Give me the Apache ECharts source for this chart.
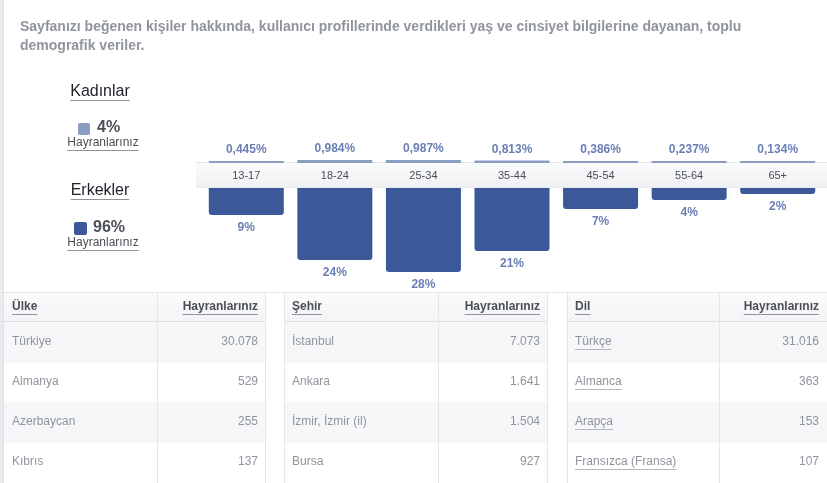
<!DOCTYPE html>
<html>
<head>
<meta charset="utf-8">
<script src="https://cdn.jsdelivr.net/npm/echarts@6/dist/echarts.min.js"></script>
<style>
html,body{margin:0;padding:0;background:#fff;}
#main{width:827px;height:483px;}
</style>
</head>
<body>
<div id="main"></div>
<script>
// yaş grupları ve cinsiyet dağılımı
var ageGroups = ['13-17', '18-24', '25-34', '35-44', '45-54', '55-64', '65+'];
var womenPct = [0.445, 0.984, 0.987, 0.813, 0.386, 0.237, 0.134];
var menPct = [9, 24, 28, 21, 7, 4, 2];
var womenTotal = 4;
var menTotal = 96;

// tablolar
var countryNames = ['Türkiye', 'Almanya', 'Azerbaycan', 'Kıbrıs'];
var countryFans = [30078, 529, 255, 137];
var cityNames = ['İstanbul', 'Ankara', 'İzmir, İzmir (il)', 'Bursa'];
var cityFans = [7073, 1641, 1504, 927];
var langNames = ['Türkçe', 'Almanca', 'Arapça', 'Fransızca (Fransa)'];
var langFans = [31016, 363, 153, 107];

var headerText = ['Sayfanızı beğenen kişiler hakkında, kullanıcı profillerinde verdikleri yaş ve cinsiyet bilgilerine dayanan, toplu',
    'demografik veriler.'];

var FONT = '"Liberation Sans", Arial, sans-serif';
var ctx = document.createElement('canvas').getContext('2d');
function textW(s, size, bold) {
    ctx.font = (bold ? 'bold ' : '') + size + 'px ' + FONT;
    return ctx.measureText(s).width;
}
function fmtNum(n) { return String(n).replace(/\B(?=(\d{3})+(?!\d))/g, '.'); }
function fmtPct(v) { return v.toFixed(3).replace('.', ',') + '%'; }

var g = [];
function txt(x, y, s, size, color, bold, align) {
    g.push({
        type: 'text', x: x, y: y, z: 10, silent: true,
        style: {
            text: s, font: (bold ? 'bold ' : '') + size + 'px ' + FONT, fill: color,
            align: align || 'left', verticalAlign: 'middle',
            textAlign: align || 'left', textVerticalAlign: 'middle'
        }
    });
}
function line(x1, y1, x2, y2, color, z) {
    g.push({type: 'line', z: z || 3, silent: true, shape: {x1: x1, y1: y1, x2: x2, y2: y2},
        style: {stroke: color, lineWidth: 1}});
}
function rect(x, y, w, h, fill, z, r) {
    g.push({type: 'rect', z: z || 1, silent: true, shape: {x: x, y: y, width: w, height: h, r: r || 0},
        style: {fill: fill}});
}
function underlined(x, y, s, size, color, bold, align, lineColor, off) {
    txt(x, y, s, size, color, bold, align);
    var w = textW(s, size, bold);
    var x0 = align === 'right' ? x - w : (align === 'center' ? x - w / 2 : x);
    line(x0, y + off + 0.5, x0 + w, y + off + 0.5, lineColor, 11);
}

// sol kenar
rect(0, 0, 3, 483, '#e9ebee', 0);
line(3.5, 0, 3.5, 483, '#dddfe2', 1);

// başlık
txt(20, 27, headerText[0], 14, '#90949c', true);
txt(20, 46, headerText[1], 14, '#90949c', true);

// cinsiyet özetleri
underlined(100, 92, 'Kadınlar', 16, '#1d2129', false, 'center', '#90949c', 8);
rect(78, 123, 12, 12, '#8b9dc3', 5, 2);
txt(97, 128, womenTotal + '%', 16, '#4b4f56', true);
underlined(103, 143, 'Hayranlarınız', 12, '#4b4f56', false, 'center', '#90949c', 7);

underlined(100, 191, 'Erkekler', 16, '#1d2129', false, 'center', '#90949c', 8);
rect(74, 222, 13, 13, '#3b5998', 5, 2);
txt(93, 228, menTotal + '%', 16, '#4b4f56', true);
underlined(103, 243, 'Hayranlarınız', 12, '#4b4f56', false, 'center', '#90949c', 7);

// yaş bandı
g.push({type: 'rect', z: 1, silent: true, shape: {x: 196, y: 162, width: 631, height: 26},
    style: {fill: new echarts.graphic.LinearGradient(0, 0, 0, 1, [
        {offset: 0, color: '#fcfcfd'}, {offset: 1, color: '#eff0f2'}])}});
line(196, 162.5, 827, 162.5, '#e3e5e8', 2);
line(196, 187.5, 827, 187.5, '#e9ebee', 2);

// tablolar
var tables = [
    {x: 4, w: 262, sep: 157, head: 'Ülke', names: countryNames, fans: countryFans, link: false},
    {x: 284, w: 264, sep: 438, head: 'Şehir', names: cityNames, fans: cityFans, link: false},
    {x: 567, w: 260, sep: 719, head: 'Dil', names: langNames, fans: langFans, link: true}
];
line(4, 292.5, 827, 292.5, '#e5e6e9', 3);
tables.forEach(function (t) {
    g.push({type: 'rect', z: 1, silent: true, shape: {x: t.x, y: 293, width: t.w, height: 29},
        style: {fill: new echarts.graphic.LinearGradient(0, 0, 0, 1, [
            {offset: 0, color: '#fbfbfc'}, {offset: 1, color: '#f3f4f6'}])}});
    line(t.x, 321.5, t.x + t.w, 321.5, '#dddfe2', 3);
    for (var i = 0; i < t.names.length; i++) {
        var y0 = 322 + i * 40;
        if (i % 2 === 0) rect(t.x, y0, t.w, 41, '#f6f7f9', 1);
        if (t.link) {
            underlined(t.x + 8, y0 + 20, t.names[i], 12, '#90949c', false, 'left', '#b4b7bd', 7);
        } else {
            txt(t.x + 8, y0 + 20, t.names[i], 12, '#90949c', false);
        }
        txt(t.x + t.w - 8, y0 + 20, fmtNum(t.fans[i]), 12, '#90949c', false, 'right');
    }
    line(t.sep + 0.5, 293, t.sep + 0.5, 483, '#e5e6e9', 3);
    if (t.x > 4) line(t.x + 0.5, 293, t.x + 0.5, 483, '#e5e6e9', 3);
    if (t.x + t.w < 827) line(t.x + t.w - 0.5, 293, t.x + t.w - 0.5, 483, '#e5e6e9', 3);
    underlined(t.x + 8, 307, t.head, 12, '#4b4f56', true, 'left', '#90949c', 7);
    underlined(t.x + t.w - 8, 307, 'Hayranlarınız', 12, '#4b4f56', true, 'right', '#90949c', 7);
});

var myChart = echarts.init(document.getElementById('main'));

var labelStyle = {color: '#6a7fb5', fontSize: 12, fontWeight: 'bold', fontFamily: FONT};

var option = {
    animation: false,
    grid: [
        {left: 202, width: 620, top: 133, height: 30, containLabel: false, outerBoundsMode: 'none'},
        {left: 202, width: 620, top: 188, height: 90, containLabel: false, outerBoundsMode: 'none'}
    ],
    xAxis: [
        {type: 'category', gridIndex: 0, data: ageGroups, show: false},
        {type: 'category', gridIndex: 1, data: ageGroups, position: 'top', z: 20,
            axisLine: {show: false}, axisTick: {show: false}, splitLine: {show: false},
            axisLabel: {margin: 7, fontSize: 11, color: '#4b4f56', fontFamily: FONT}}
    ],
    yAxis: [
        {type: 'value', gridIndex: 0, min: 0, max: 10, show: false},
        {type: 'value', gridIndex: 1, min: -30, max: 0, show: false}
    ],
    series: [
        {
            name: 'Kadınlar', type: 'bar', xAxisIndex: 0, yAxisIndex: 0,
            data: womenPct, barWidth: 75, barMinHeight: 2, silent: true,
            itemStyle: {color: '#8b9dc3'},
            label: Object.assign({show: true, position: 'top', distance: 5,
                formatter: function (p) { return fmtPct(p.value); }}, labelStyle)
        },
        {
            name: 'Erkekler', type: 'bar', xAxisIndex: 1, yAxisIndex: 1,
            data: menPct.map(function (v) { return -v; }), barWidth: 75, silent: true,
            itemStyle: {color: '#3b5998', borderRadius: [0, 0, 3, 3]},
            label: Object.assign({show: true, position: 'bottom', distance: 7,
                formatter: function (p) { return Math.abs(p.value) + '%'; }}, labelStyle)
        }
    ],
    graphic: {elements: g}
};

myChart.setOption(option);
</script>
</body>
</html>
